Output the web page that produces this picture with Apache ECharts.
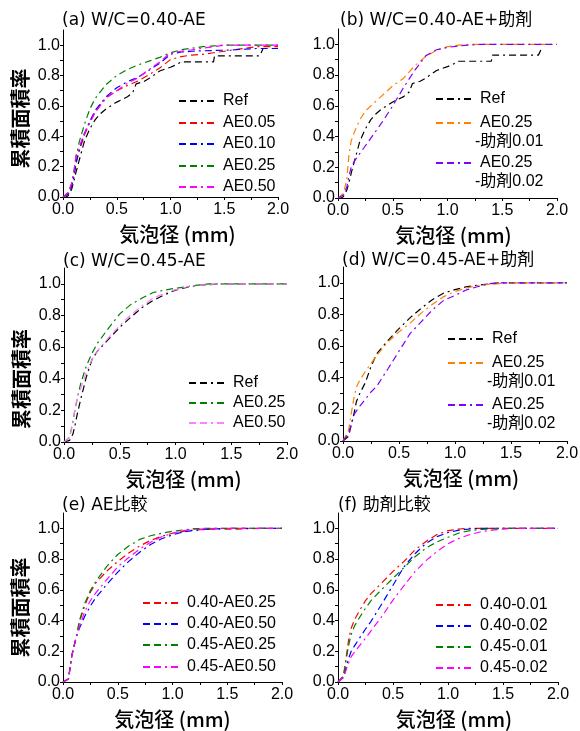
<!DOCTYPE html>
<html>
<head>
<meta charset="utf-8">
<title>累積面積率</title>
<script src="https://cdn.jsdelivr.net/npm/echarts@6/dist/echarts.min.js"></script>
<style>
  html, body { margin: 0; padding: 0; background: #fff; }
  #chart { width: 580px; height: 731px; }
</style>
</head>
<body>
<div id="chart"></div>
<script>
// 気泡径の共通グリッド (mm)
var diam = [0, 0.05, 0.08, 0.1, 0.12, 0.15, 0.2, 0.25, 0.3, 0.4, 0.5, 0.6, 0.7, 0.8, 0.9, 1.0, 1.1, 1.2, 1.3, 1.4, 1.5, 1.6, 1.8, 2.0];

// W/C=0.40 Ref (階段状なので個別の径)
var refDiam = [0, 0.03, 0.05, 0.08, 0.1, 0.12, 0.15, 0.2, 0.25, 0.3, 0.35, 0.4, 0.5, 0.6, 0.65, 0.68, 0.75, 0.8, 0.9, 1.0, 1.05, 1.1, 1.4, 1.41, 1.83, 1.86];
var refRate = [0, 0, 0.01, 0.05, 0.1, 0.16, 0.24, 0.37, 0.45, 0.51, 0.55, 0.58, 0.625, 0.66, 0.69, 0.745, 0.76, 0.78, 0.83, 0.855, 0.87, 0.89, 0.89, 0.93, 0.93, 0.975];

// (a) W/C=0.40-AE
var aAE005 = [0, .02, .07, .13, .22, .30, .41, .49, .56, .655, .70, .735, .765, .805, .85, .905, .925, .935, .94, .95, .96, .97, .99, .99];
var aAE010 = [0, .02, .07, .13, .22, .31, .42, .50, .57, .66, .72, .76, .79, .835, .88, .94, .955, .96, .963, .965, .967, .97, .978, .978];
var aAE025 = [0, .03, .09, .16, .26, .36, .48, .58, .65, .74, .80, .84, .87, .895, .92, .95, .97, .98, .99, .995, 1, 1, 1, 1];
var aAE050 = [0, .03, .09, .16, .27, .33, .42, .49, .56, .65, .70, .75, .785, .84, .89, .95, .96, .97, .98, .99, 1, 1, 1, 1];

// (b) W/C=0.40-AE+助剤
var bAid001 = [0, .03, .12, .28, .37, .43, .51, .565, .60, .665, .73, .78, .86, .92, .962, .985, .995, 1, 1, 1, 1, 1, 1, 1];
var bAid002 = [0, .02, .07, .14, .20, .24, .29, .34, .39, .49, .60, .72, .83, .925, .965, .98, .99, .995, 1, 1, 1, 1, 1, 1];

// (c) W/C=0.45-AE
var cRef = [0, .01, .05, .11, .18, .27, .41, .52, .575, .65, .725, .79, .85, .895, .93, .96, .978, .99, .995, 1, 1, 1, 1, 1];
var cAE025 = [0, .03, .13, .21, .28, .37, .48, .56, .625, .72, .81, .87, .91, .945, .96, .972, .982, .992, 1, 1, 1, 1, 1, 1];
var cAE050 = [0, .03, .12, .22, .28, .34, .44, .52, .575, .66, .735, .805, .86, .91, .94, .963, .98, .99, .995, 1, 1, 1, 1, 1];

// (d) W/C=0.45-AE+助剤
var dRef = [0, .03, .12, .18, .25, .30, .37, .47, .55, .635, .71, .78, .84, .895, .935, .957, .975, .985, .993, 1, 1, 1, 1, 1];
var dAid001 = [0, .07, .20, .28, .34, .385, .44, .49, .54, .625, .69, .745, .81, .865, .913, .945, .967, .983, .99, .995, 1, 1, 1, 1];
var dAid002 = [0, .05, .12, .168, .19, .22, .265, .31, .345, .455, .568, .68, .755, .83, .89, .92, .955, .975, .994, 1, 1, 1, 1, 1];

// (e) AE比較
var e040AE025 = [0, .02, .17, .23, .29, .39, .50, .585, .645, .722, .785, .84, .885, .922, .948, .968, .98, .99, .993, .995, .995, .995, 1, 1];
var e040AE050 = [0, .02, .17, .23, .29, .35, .43, .495, .55, .635, .715, .785, .845, .895, .932, .958, .977, .987, .993, .997, 1, 1, 1, 1];
var e045AE025 = [0, .02, .17, .23, .29, .40, .515, .595, .655, .753, .83, .885, .928, .952, .968, .981, .99, .998, 1, 1, 1, 1, 1, 1];
var e045AE050 = [0, .02, .17, .23, .29, .36, .46, .53, .58, .667, .75, .81, .865, .91, .945, .968, .985, .993, .997, 1, 1, 1, 1, 1];

// (f) 助剤比較
var f040A001 = [0, .04, .19, .29, .35, .405, .47, .53, .575, .647, .72, .785, .86, .915, .96, .985, .996, 1, 1, 1, 1, 1, 1, 1];
var f040A002 = [0, .03, .11, .16, .20, .235, .29, .345, .395, .51, .63, .75, .835, .902, .946, .973, .988, .996, 1, 1, 1, 1, 1, 1];
var f045A001 = [0, .04, .17, .25, .31, .365, .425, .48, .53, .605, .675, .745, .815, .872, .912, .942, .97, .985, .993, .997, 1, 1, 1, 1];
var f045A002 = [0, .03, .09, .13, .165, .195, .24, .285, .333, .428, .533, .628, .718, .79, .85, .90, .935, .96, .978, .988, .995, 1, 1, 1];

// 目盛り
var xTicks = [0, 0.5, 1.0, 1.5, 2.0];
var xMinor = [0, 0.25, 0.5, 0.75, 1.0, 1.25, 1.5, 1.75, 2.0];
var yTicks = [0, 0.2, 0.4, 0.6, 0.8, 1.0];
var yMinor = [0, 0.1, 0.2, 0.3, 0.4, 0.5, 0.6, 0.7, 0.8, 0.9, 1.0];

var numFont = '"Liberation Sans", Arial, "Noto Sans CJK JP", sans-serif';
var titleFont = '"DejaVu Sans", "Noto Sans CJK JP", sans-serif';
var jpFont = '"Noto Sans CJK JP", sans-serif';
var dashType = [7, 4, 7, 4, 2, 4];

var panels = [
    {
        key: 'a', title: '(a) W/C=0.40-AE', titlePos: [62, 12],
        grid: { left: 63, top: 30, width: 215, height: 167 },
        yName: true, yShift: 5, xShift: 7,
        legendLeft: 178, legendY: [101, 123, 144, 166, 187],
        lines: [
            { label: 'Ref', xs: refDiam, ys: refRate, color: '#000000' },
            { label: 'AE0.05', xs: diam, ys: aAE005, color: '#ff0000' },
            { label: 'AE0.10', xs: diam, ys: aAE010, color: '#0000ff' },
            { label: 'AE0.25', xs: diam, ys: aAE025, color: '#008000' },
            { label: 'AE0.50', xs: diam, ys: aAE050, color: '#ff00ff' }
        ]
    },
    {
        key: 'b', title: '(b) W/C=0.40-AE+助剤', titlePos: [340, 12],
        grid: { left: 338, top: 29, width: 219, height: 169 },
        yName: false, xShift: 6,
        legendLeft: 435, legendY: [99, 123, 163],
        lines: [
            { label: 'Ref', xs: refDiam, ys: refRate, color: '#000000' },
            { label: 'AE0.25', sub: '-助剤0.01', xs: diam, ys: bAid001, color: '#ff8000' },
            { label: 'AE0.25', sub: '-助剤0.02', xs: diam, ys: bAid002, color: '#8000ff' }
        ]
    },
    {
        key: 'c', title: '(c) W/C=0.45-AE', titlePos: [63, 253],
        grid: { left: 64, top: 268, width: 223, height: 174 },
        yName: true, yShift: 24, xShift: 8,
        legendLeft: 188, legendY: [383, 403, 423],
        lines: [
            { label: 'Ref', xs: diam, ys: cRef, color: '#000000' },
            { label: 'AE0.25', xs: diam, ys: cAE025, color: '#008000' },
            { label: 'AE0.50', xs: diam, ys: cAE050, color: '#ff80ff' }
        ]
    },
    {
        key: 'd', title: '(d) W/C=0.45-AE+助剤', titlePos: [342, 252],
        grid: { left: 343, top: 267, width: 224, height: 174 },
        yName: false, xShift: 6,
        legendLeft: 447, legendY: [339, 363, 405],
        lines: [
            { label: 'Ref', xs: diam, ys: dRef, color: '#000000' },
            { label: 'AE0.25', sub: '-助剤0.01', xs: diam, ys: dAid001, color: '#ff8000' },
            { label: 'AE0.25', sub: '-助剤0.02', xs: diam, ys: dAid002, color: '#8000ff' }
        ]
    },
    {
        key: 'e', title: '(e) AE比較', titlePos: [62, 497],
        grid: { left: 63, top: 513, width: 219, height: 169 },
        yName: true, yShift: 10, xShift: 0,
        legendLeft: 142, legendY: [603, 624, 645, 667],
        lines: [
            { label: '0.40-AE0.25', xs: diam, ys: e040AE025, color: '#ff0000' },
            { label: '0.40-AE0.50', xs: diam, ys: e040AE050, color: '#0000ff' },
            { label: '0.45-AE0.25', xs: diam, ys: e045AE025, color: '#008000' },
            { label: '0.45-AE0.50', xs: diam, ys: e045AE050, color: '#ff00ff' }
        ]
    },
    {
        key: 'f', title: '(f) 助剤比較', titlePos: [338, 497],
        grid: { left: 338, top: 513, width: 220, height: 169 },
        yName: false, xShift: 6,
        legendLeft: 435, legendY: [605, 626, 647, 668],
        lines: [
            { label: '0.40-0.01', xs: diam, ys: f040A001, color: '#ff0000' },
            { label: '0.40-0.02', xs: diam, ys: f040A002, color: '#0000ff' },
            { label: '0.45-0.01', xs: diam, ys: f045A001, color: '#008000' },
            { label: '0.45-0.02', xs: diam, ys: f045A002, color: '#ff00ff' }
        ]
    }
];

function pairs(xs, ys) {
    return xs.map(function (x, i) { return [x, ys[i]]; });
}

function fmt1(v) {
    return Number(v).toFixed(1);
}

function buildOption() {
    var option = {
        backgroundColor: '#ffffff',
        animation: false,
        title: [], grid: [], xAxis: [], yAxis: [], series: [], legend: [], graphic: []
    };

    panels.forEach(function (p, i) {
        option.title.push({
            text: p.title, left: p.titlePos[0], top: p.titlePos[1], padding: 0,
            textStyle: { fontSize: 17, fontWeight: 'normal', color: '#000', fontFamily: titleFont }
        });

        option.grid.push({
            left: p.grid.left, top: p.grid.top, width: p.grid.width, height: p.grid.height,
            containLabel: false, outerBoundsMode: 'none'
        });

        option.xAxis.push({
            gridIndex: i, type: 'value', min: 0, max: 2, interval: 0.5,
            axisLine: { show: true, onZero: false, lineStyle: { color: '#000', width: 1 } },
            axisTick: { show: true, inside: false, length: 3, customValues: xMinor, lineStyle: { color: '#000' } },
            axisLabel: { customValues: xTicks, formatter: fmt1, color: '#000', fontSize: 16, fontFamily: numFont, margin: 5 },
            splitLine: { show: false },
            name: '気泡径 (mm)', nameLocation: 'middle', nameGap: 27,
            nameTextStyle: {
                fontSize: 20, color: '#000', fontFamily: jpFont, fontWeight: 500,
                padding: [0, 0, 0, p.xShift * 2]
            }
        });

        var yAxis = {
            gridIndex: i, type: 'value', min: 0, max: 1.1, interval: 0.2,
            axisLine: { show: true, onZero: false, lineStyle: { color: '#000', width: 1 } },
            axisTick: { show: true, inside: false, length: 3, customValues: yMinor, lineStyle: { color: '#000' } },
            axisLabel: { customValues: yTicks, formatter: fmt1, color: '#000', fontSize: 16, fontFamily: numFont, margin: 3 },
            splitLine: { show: false }
        };
        if (p.yName) {
            yAxis.name = '累積面積率';
            yAxis.nameLocation = 'middle';
            yAxis.nameGap = 33;
            yAxis.nameTextStyle = {
                fontSize: 20, color: '#000', fontFamily: jpFont, fontWeight: 'bold',
                padding: [0, p.yShift * 2, 0, 0]
            };
        }
        option.yAxis.push(yAxis);

        p.lines.forEach(function (ln, j) {
            var sname = p.key + '|' + ln.label + '|' + j;
            option.series.push({
                name: sname, type: 'line', xAxisIndex: i, yAxisIndex: i,
                data: pairs(ln.xs, ln.ys),
                symbol: 'none', smooth: false,
                lineStyle: { color: ln.color, width: 1.2, type: dashType },
                itemStyle: { color: ln.color },
                z: 2 + j
            });

            var cy = p.legendY[j];
            option.legend.push({
                data: [sname], orient: 'vertical',
                left: p.legendLeft, top: cy - 8, padding: 0,
                itemWidth: 39, itemHeight: 14, itemGap: 0,
                selectedMode: false,
                // 凡例は線種のみ表示 (マーカーは隠す)
                itemStyle: { opacity: 0, borderWidth: 0 },
                lineStyle: { opacity: 1 },
                formatter: function (name) { return name.split('|')[1]; },
                textStyle: { fontSize: 16, color: '#000', fontFamily: numFont }
            });

            if (ln.sub) {
                option.graphic.push({
                    type: 'text', left: p.legendLeft + 40, top: cy + 20 - 9,
                    style: { text: ln.sub, fill: '#000', font: '16px ' + numFont }
                });
            }
        });
    });

    return option;
}

function init() {
    var myChart = echarts.init(document.getElementById('chart'), null, { renderer: 'canvas' });
    myChart.setOption(buildOption());
}

init();
</script>
</body>
</html>
